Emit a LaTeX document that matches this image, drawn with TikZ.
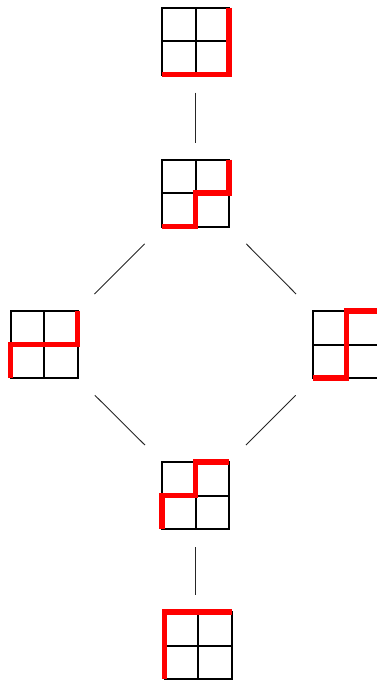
\documentclass[tikz,border=0pt]{standalone}
\newcommand\gridcells[1]{%
  \draw[gridline] (#1.north west) rectangle (#1.south east)
    (#1.north) -- (#1.south) (#1.west) -- (#1.east);}
\begin{document}
\begin{tikzpicture}[x=1pt,y=-1pt,
  cellgrid/.style={minimum width=67pt,minimum height=67pt,inner sep=0pt,outer sep=0pt},
  gridline/.style={line width=2pt,black},
  redpath/.style={line width=5.8pt,red,line cap=butt,line join=miter},
  conn/.style={line width=0.9pt,black!85},
  vconn/.style={conn,shorten <=18pt,shorten >=17pt},
  dconn/.style={conn,shorten <=24.5pt,shorten >=24pt}]
\useasboundingbox (0,0) rectangle (376,681);
\node[cellgrid] (g1) at (195.5,41) {};
\node[cellgrid] (g2) at (195.5,193) {};
\node[cellgrid] (g3) at (44,344.5) {};
\node[cellgrid] (g4) at (346.5,344.5) {};
\node[cellgrid] (g5) at (195.5,495.5) {};
\node[cellgrid] (g6) at (198,645.5) {};
\gridcells{g1}\gridcells{g2}\gridcells{g3}\gridcells{g4}\gridcells{g5}\gridcells{g6}
\draw[redpath] (g1.north east) -- (g1.south east) -- (g1.south west);
\draw[redpath] (g2.north east) -- (g2.east) -- (g2.center) -- (g2.south) -- (g2.south west);
\draw[redpath] (g3.north east) -- (g3.east) -- (g3.west) -- (g3.south west);
\draw[redpath] (g4.north east) -- (g4.north) -- (g4.south) -- (g4.south west);
\draw[redpath] (g5.north east) -- (g5.north) -- (g5.center) -- (g5.west) -- (g5.south west);
\draw[redpath] (g6.north east) -- (g6.north west) -- (g6.south west);
\draw[vconn] (g1.south) -- (g2.north);
\draw[dconn] (g2.south west) -- (g3.north east);
\draw[dconn] (g2.south east) -- (g4.north west);
\draw[dconn] (g3.south east) -- (g5.north west);
\draw[dconn] (g4.south west) -- (g5.north east);
\draw[vconn] (g5.south) -- (g5.south |- g6.north);
\end{tikzpicture}
\end{document}
